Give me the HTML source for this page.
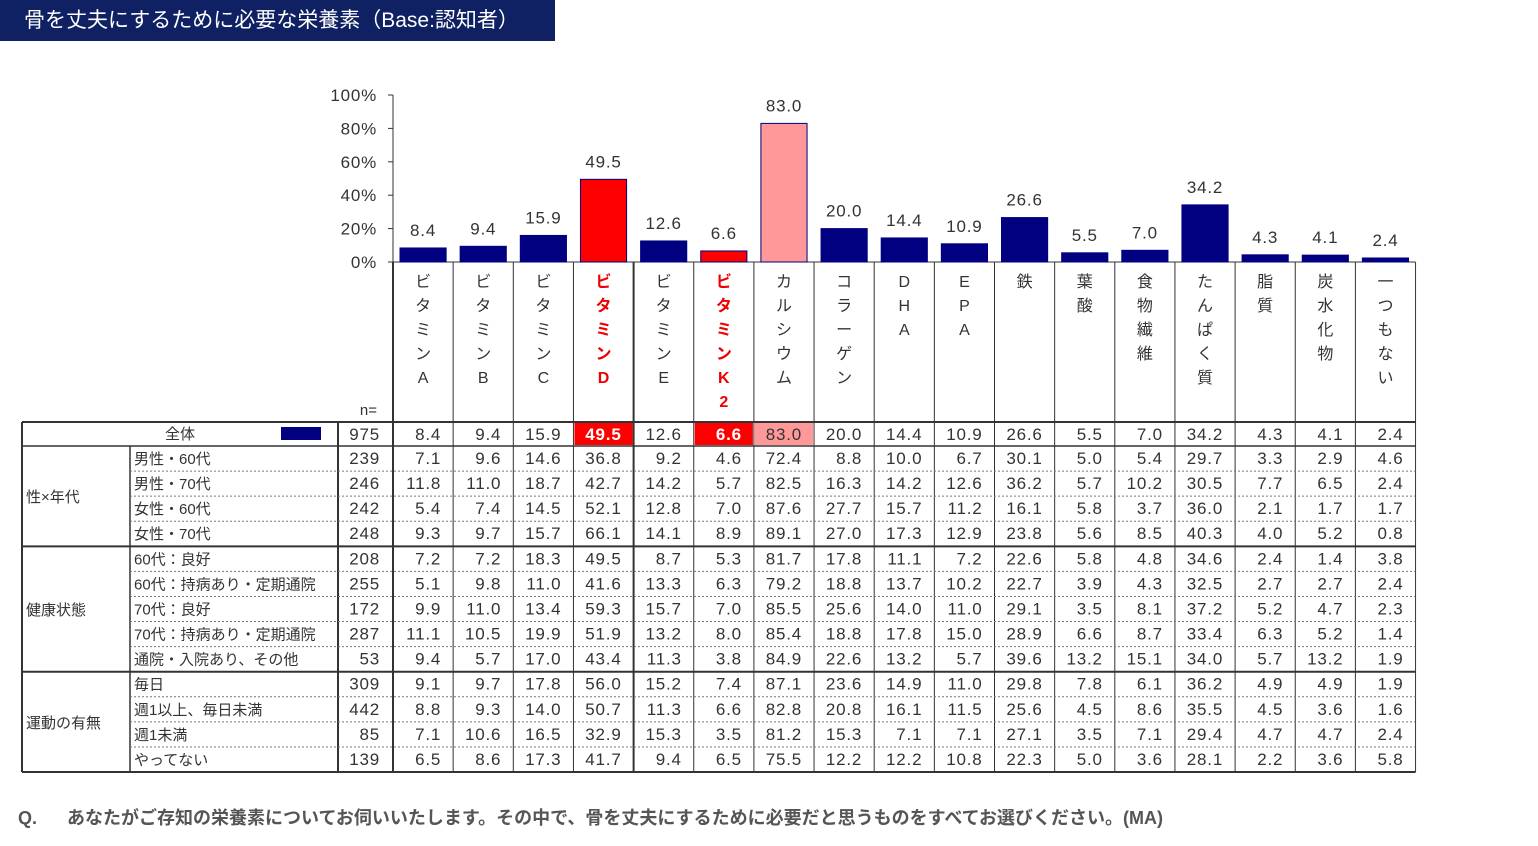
<!DOCTYPE html>
<html><head><meta charset="utf-8"><style>
body{margin:0;background:#fff;width:1538px;height:846px;overflow:hidden;font-family:"Liberation Sans","Noto Sans CJK JP",sans-serif}
#title{position:absolute;left:0;top:0;width:555px;height:41px;background:#0f2063;color:#fff;font-size:21px;line-height:41px;padding-left:24px;box-sizing:border-box}
#q{position:absolute;left:18px;top:804px;font-size:18px;font-weight:bold;color:#555}
svg{position:absolute;left:0;top:0}
</style></head><body>
<div id="title">骨を丈夫にするために必要な栄養素（Base:認知者）</div>
<svg id="c" width="1538" height="846"></svg>
<div id="q"><span style="display:inline-block;width:49px">Q.</span>あなたがご存知の栄養素についてお伺いいたします。その中で、骨を丈夫にするために必要だと思うものをすべてお選びください。(MA)</div>
<script>
const categories=["ビタミンA","ビタミンB","ビタミンC","ビタミンD","ビタミンE","ビタミンK2","カルシウム","コラーゲン","DHA","EPA","鉄","葉酸","食物繊維","たんぱく質","脂質","炭水化物","一つもない"];
const catChars=[["ビ","タ","ミ","ン","A"],["ビ","タ","ミ","ン","B"],["ビ","タ","ミ","ン","C"],["ビ","タ","ミ","ン","D"],["ビ","タ","ミ","ン","E"],["ビ","タ","ミ","ン","K","2"],["カ","ル","シ","ウ","ム"],["コ","ラ","ー","ゲ","ン"],["D","H","A"],["E","P","A"],["鉄"],["葉","酸"],["食","物","繊","維"],["た","ん","ぱ","く","質"],["脂","質"],["炭","水","化","物"],["一","つ","も","な","い"]];
const totalValues=[8.4,9.4,15.9,49.5,12.6,6.6,83.0,20.0,14.4,10.9,26.6,5.5,7.0,34.2,4.3,4.1,2.4];
const yTicks=["0%","20%","40%","60%","80%","100%"];
const rowLabels=["男性・60代","男性・70代","女性・60代","女性・70代","60代：良好","60代：持病あり・定期通院","70代：良好","70代：持病あり・定期通院","通院・入院あり、その他","毎日","週1以上、毎日未満","週1未満","やってない"];
const groups=[["性×年代",0,4],["健康状態",4,9],["運動の有無",9,13]];
const rowN=[239,246,242,248,208,255,172,287,53,309,442,85,139];
const rowValues=[
[7.1,9.6,14.6,36.8,9.2,4.6,72.4,8.8,10.0,6.7,30.1,5.0,5.4,29.7,3.3,2.9,4.6],
[11.8,11.0,18.7,42.7,14.2,5.7,82.5,16.3,14.2,12.6,36.2,5.7,10.2,30.5,7.7,6.5,2.4],
[5.4,7.4,14.5,52.1,12.8,7.0,87.6,27.7,15.7,11.2,16.1,5.8,3.7,36.0,2.1,1.7,1.7],
[9.3,9.7,15.7,66.1,14.1,8.9,89.1,27.0,17.3,12.9,23.8,5.6,8.5,40.3,4.0,5.2,0.8],
[7.2,7.2,18.3,49.5,8.7,5.3,81.7,17.8,11.1,7.2,22.6,5.8,4.8,34.6,2.4,1.4,3.8],
[5.1,9.8,11.0,41.6,13.3,6.3,79.2,18.8,13.7,10.2,22.7,3.9,4.3,32.5,2.7,2.7,2.4],
[9.9,11.0,13.4,59.3,15.7,7.0,85.5,25.6,14.0,11.0,29.1,3.5,8.1,37.2,5.2,4.7,2.3],
[11.1,10.5,19.9,51.9,13.2,8.0,85.4,18.8,17.8,15.0,28.9,6.6,8.7,33.4,6.3,5.2,1.4],
[9.4,5.7,17.0,43.4,11.3,3.8,84.9,22.6,13.2,5.7,39.6,13.2,15.1,34.0,5.7,13.2,1.9],
[9.1,9.7,17.8,56.0,15.2,7.4,87.1,23.6,14.9,11.0,29.8,7.8,6.1,36.2,4.9,4.9,1.9],
[8.8,9.3,14.0,50.7,11.3,6.6,82.8,20.8,16.1,11.5,25.6,4.5,8.6,35.5,4.5,3.6,1.6],
[7.1,10.6,16.5,32.9,15.3,3.5,81.2,15.3,7.1,7.1,27.1,3.5,7.1,29.4,4.7,4.7,2.4],
[6.5,8.6,17.3,41.7,9.4,6.5,75.5,12.2,12.2,10.8,22.3,5.0,3.6,28.1,2.2,3.6,5.8]];
const totalN=975;
const redIdx=[3,5], pinkIdx=6;

const svg=document.getElementById('c');const NS="http://www.w3.org/2000/svg";
function el(t,a,txt){const e=document.createElementNS(NS,t);for(const k in a)e.setAttribute(k,a[k]);if(txt!==undefined)e.textContent=txt;svg.appendChild(e);return e;}
const X0=393,CW=60.15,Y0=262,YH=167;
const xL=i=>X0+i*CW, xC=i=>X0+(i+0.5)*CW, yS=v=>Y0-v/100*YH;
const TT=422, R0=446, RH=25.08, TB=R0+13*RH, TL=22, XR=xL(17);
const FONT='"Liberation Sans","Noto Sans CJK JP",sans-serif';
const NUM={'font-size':17,'letter-spacing':0.8,'font-family':FONT};
function numAttrs(extra){return Object.assign({},NUM,extra);}
let e=el('line',{x1:X0,y1:95,x2:X0,y2:Y0,stroke:'#333','stroke-width':1});

yTicks.forEach((t,k)=>{const y=yS(k*20);
 el('line',{x1:X0-5,y1:y,x2:X0,y2:y,stroke:'#333'});
 e=el('text',numAttrs({x:377,y:y+6,'text-anchor':'end',fill:'#333'}),t);
 });
el('line',{x1:X0,y1:Y0,x2:XR,y2:Y0,stroke:'#333'});
totalValues.forEach((v,i)=>{
 const col=redIdx.includes(i)?'#ff0000':(i===pinkIdx?'#ff9999':'#000080');
 e=el('rect',{x:xL(i)+7,y:yS(v),width:CW-14,height:Y0-yS(v),fill:col,stroke:'#000080','stroke-width':1});
 
 e=el('text',numAttrs({x:xC(i),y:yS(v)-12,'text-anchor':'middle',fill:'#333'}),v.toFixed(1));
 
});
catChars.forEach((cs,i)=>{const red=redIdx.includes(i);
 e=el('text',{x:xC(i),'text-anchor':'middle','font-size':16,fill:red?'#e00':'#333','font-weight':red?'bold':'normal','font-family':FONT});
 
 cs.forEach((c,k)=>{const t=document.createElementNS(NS,'tspan');t.setAttribute('x',xC(i));t.setAttribute('y',287+k*24);t.textContent=c;e.appendChild(t);});
});
e=el('text',{x:377,y:415,'text-anchor':'end','font-size':15,fill:'#333','font-family':FONT},'n=');

for(let i=0;i<=17;i++){el('line',{x1:xL(i),y1:Y0,x2:xL(i),y2:TB,stroke:'#333','stroke-width':(i===0||i===4)?2:1});}
el('line',{x1:338,y1:TT,x2:338,y2:TB,stroke:'#333','stroke-width':2});
el('line',{x1:TL,y1:TT,x2:TL,y2:TB,stroke:'#333','stroke-width':2});
el('line',{x1:130,y1:R0,x2:130,y2:TB,stroke:'#333','stroke-width':1.5});
const hb=[[3,'#ff0000'],[5,'#ff0000'],[6,'#ff9999']];
hb.forEach(([i,c])=>el('rect',{x:xL(i)+1,y:TT+1,width:CW-2,height:R0-TT-2,fill:c}));
e=el('text',{x:180,y:TT+17,'text-anchor':'middle','font-size':15,fill:'#333','font-family':FONT},'全体');

e=el('rect',{x:281,y:TT+5,width:40,height:13,fill:'#000080'});

el('text',numAttrs({x:380,y:TT+18,'text-anchor':'end',fill:'#333'}),totalN);
totalValues.forEach((v,i)=>{const red=redIdx.includes(i);
 e=el('text',numAttrs({x:xL(i+1)-12,y:TT+18,'text-anchor':'end',fill:red?'#fff':'#333','font-weight':red?'bold':'normal'}),v.toFixed(1));
 });
rowLabels.forEach((lab,r)=>{const yt=R0+r*RH, yb=yt+RH;
 el('text',{x:134,y:yt+18,'font-size':15,fill:'#333','font-family':FONT},lab);
 el('text',numAttrs({x:380,y:yt+18,'text-anchor':'end',fill:'#333'}),rowN[r]);
 rowValues[r].forEach((v,i)=>{e=el('text',numAttrs({x:xL(i+1)-12,y:yt+18,'text-anchor':'end',fill:'#333'}),v.toFixed(1));
  });
 const solid=[3,8,12].includes(r);
 if(!solid) el('line',{x1:130,y1:yb,x2:XR,y2:yb,stroke:'#777','stroke-dasharray':'2,2'});
});
groups.forEach(([g,a,b])=>{
 e=el('text',{x:26,y:R0+(a+b)/2*RH+6,'font-size':15,fill:'#333','font-family':FONT},g);
 
 el('line',{x1:TL,y1:R0+b*RH,x2:XR,y2:R0+b*RH,stroke:'#333','stroke-width':2});
});
el('line',{x1:TL,y1:TT,x2:XR,y2:TT,stroke:'#333','stroke-width':2});
el('line',{x1:TL,y1:R0,x2:XR,y2:R0,stroke:'#333','stroke-width':1.5});
</script>
</body></html>
